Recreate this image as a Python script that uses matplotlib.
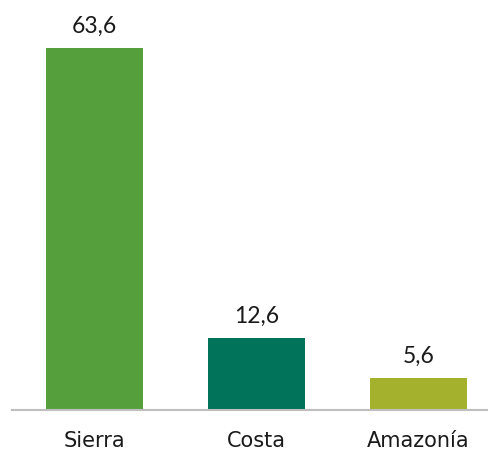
import matplotlib
matplotlib.use('Agg')
import matplotlib.pyplot as plt

regions = ['Sierra', 'Costa', 'Amazonía']
values = [63.6, 12.6, 5.6]
colors = ['#55a03c', '#00735a', '#a3b12c']

fig = plt.figure(figsize=(4.88, 4.5), dpi=100)
ax = fig.add_axes([12 / 488, 40.5 / 450, 1 - 12 / 488, 409.5 / 450])

x = range(len(regions))
bars = ax.bar(x, values, width=0.596, color=colors)

for b, v in zip(bars, values):
    ax.annotate(f'{v:.1f}'.replace('.', ','), (b.get_x() + b.get_width() / 2, v),
                xytext=(0, 8), textcoords='offset points',
                ha='center', va='bottom', fontsize=16.5, family='Lato', color='#1a1a1a')

ax.set_xlim(-0.509, 2.429)
ax.set_ylim(0, 72.05)
ax.set_xticks(list(x))
ax.set_xticklabels(regions, fontsize=15, family='DejaVu Sans', color='#1a1a1a')
ax.tick_params(axis='x', length=0, pad=15.5)
ax.set_yticks([])
for s in ['top', 'right', 'left']:
    ax.spines[s].set_visible(False)
ax.spines['bottom'].set_color('#bfbfbf')
ax.spines['bottom'].set_linewidth(1.5)

plt.savefig('out.png', dpi=100)
